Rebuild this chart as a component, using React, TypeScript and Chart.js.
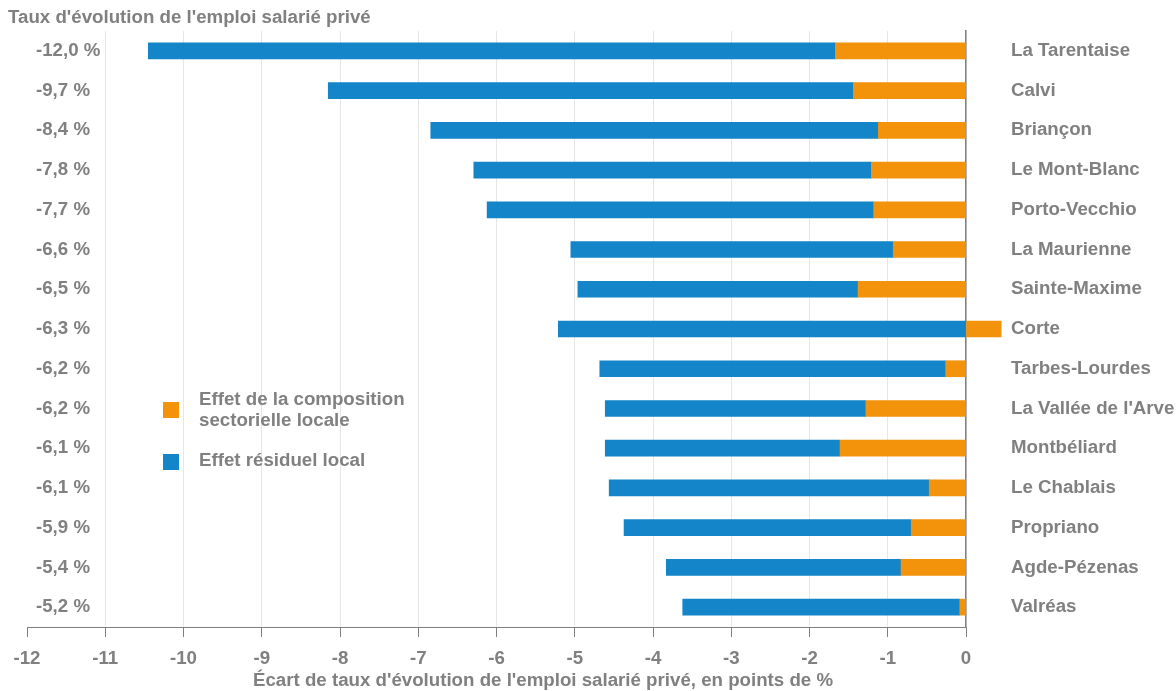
import React, { useEffect, useRef } from "react";
import { Chart, registerables } from "chart.js";

Chart.register(...registerables);

const zones = [
  "La Tarentaise", "Calvi", "Briançon", "Le Mont-Blanc", "Porto-Vecchio",
  "La Maurienne", "Sainte-Maxime", "Corte", "Tarbes-Lourdes",
  "La Vallée de l'Arve", "Montbéliard", "Le Chablais", "Propriano",
  "Agde-Pézenas", "Valréas",
];
const totalRates = [
  "-12,0 %", "-9,7 %", "-8,4 %", "-7,8 %", "-7,7 %", "-6,6 %", "-6,5 %",
  "-6,3 %", "-6,2 %", "-6,2 %", "-6,1 %", "-6,1 %", "-5,9 %", "-5,4 %", "-5,2 %",
];
const compositionEffect = [
  -1.67, -1.44, -1.12, -1.21, -1.18, -0.93, -1.38, 0.45, -0.26, -1.28, -1.61,
  -0.47, -0.7, -0.83, -0.08,
];
const residualEffect = [
  -8.78, -6.71, -5.72, -5.08, -4.94, -4.12, -3.58, -5.21, -4.42, -3.33, -3.0,
  -4.09, -3.67, -3.0, -3.54,
];
const xTicksMin = -12;
const xTicksMax = 0;

const chartTitle = "Taux d'évolution de l'emploi salarié privé";
const xTitle = "Écart de taux d'évolution de l'emploi salarié privé, en points de %";
const legendItems = [
  { lines: ["Effet de la composition", "sectorielle locale"], color: "#f3920b" },
  { lines: ["Effet résiduel local"], color: "#1385c8" },
];

const GREY = "#808080";
const FONT = "'Liberation Sans', Arial, sans-serif";
const FS = 18.7;

export default function App() {
  const ref = useRef<HTMLCanvasElement | null>(null);

  useEffect(() => {
    document.body.style.margin = "0";
    const canvas = ref.current;
    if (!canvas) return;

    const overlay = {
      id: "overlay",
      afterDraw(chart: any) {
        const ctx = chart.ctx;
        const y = chart.scales.y;
        const area = chart.chartArea;
        ctx.save();
        ctx.fillStyle = GREY;
        ctx.font = `bold ${FS}px ${FONT}`;
        ctx.textBaseline = "middle";
        ctx.textAlign = "left";
        ctx.fillText(chartTitle, 8, 18);
        totalRates.forEach((t, i) => {
          ctx.fillText(t, area.left + 9, y.getPixelForValue(i));
        });
        // legend
        const blocks = [{ sq: 410, text: [400, 421] }, { sq: 462, text: [461] }];
        legendItems.forEach((item, k) => {
          ctx.fillStyle = item.color;
          ctx.fillRect(163, blocks[k].sq - 8, 16, 16);
          ctx.fillStyle = GREY;
          item.lines.forEach((line, j) => {
            ctx.fillText(line, 199, blocks[k].text[j]);
          });
        });
        ctx.textAlign = "center";
        ctx.fillText(xTitle, 543, 681);
        ctx.restore();
      },
    };

    const chart = new Chart(canvas, {
      type: "bar",
      data: {
        labels: zones,
        datasets: [
          {
            label: legendItems[0].lines.join(" "),
            data: compositionEffect,
            backgroundColor: legendItems[0].color,
            barThickness: 16,
            clip: false as any,
          },
          {
            label: legendItems[1].lines[0],
            data: residualEffect,
            backgroundColor: legendItems[1].color,
            barThickness: 16,
            clip: false as any,
          },
        ],
      },
      options: {
        indexAxis: "y",
        animation: false,
        responsive: false,
        layout: { padding: { left: 27, top: 31, right: 0, bottom: 0 } },
        plugins: {
          legend: { display: false },
          tooltip: { enabled: false },
          title: { display: false },
        },
        scales: {
          x: {
            stacked: true,
            min: xTicksMin,
            max: xTicksMax,
            ticks: {
              stepSize: 1,
              color: GREY,
              font: { family: FONT, size: FS, weight: "bold" },
              padding: 11,
              maxRotation: 0,
              autoSkip: false,
            },
            grid: {
              color: (c: any) =>
                c.tick && c.tick.value === xTicksMin ? "rgba(0,0,0,0)" : "#e6e6e6",
              tickColor: GREY,
              tickLength: 10,
              lineWidth: 1,
            },
            border: { color: GREY, width: 1 },
            afterFit: (s: any) => {
              s.height = 64;
            },
          },
          y: {
            stacked: true,
            position: "right",
            ticks: {
              color: GREY,
              font: { family: FONT, size: FS, weight: "bold" },
              padding: 45,
              autoSkip: false,
            },
            grid: { display: false, drawTicks: false },
            border: { color: GREY, width: 1.5 },
            afterFit: (s: any) => {
              s.width = 210;
              s.paddingTop = 0;
              s.paddingBottom = 0;
            },
          },
        },
      },
      plugins: [overlay],
    });

    return () => chart.destroy();
  }, []);

  return (
    <div style={{ width: 1176, height: 691, position: "relative" }}>
      <canvas ref={ref} width={1176} height={691} style={{ display: "block" }} />
    </div>
  );
}
